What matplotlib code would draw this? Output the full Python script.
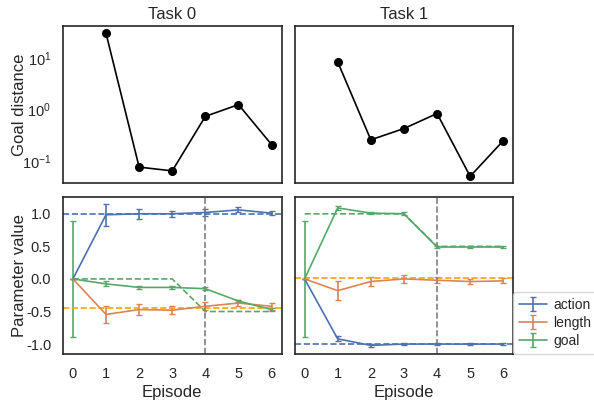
import numpy as np
import matplotlib
matplotlib.use("Agg")
import matplotlib.pyplot as plt
import seaborn as sns

sns.set_style("white")
plt.rcParams['font.family'] = ['Arial', 'Liberation Sans', 'DejaVu Sans']
plt.rcParams['axes.unicode_minus'] = False

episodes = [0, 1, 2, 3, 4, 5, 6]
tasks = ["Task 0", "Task 1"]

# goal distance per episode (log scale)
goal_dist = [
    [None, 30.0, 0.077, 0.065, 0.74, 1.25, 0.21],
    [None, 8.4, 0.26, 0.43, 0.84, 0.051, 0.25],
]

# estimated parameters (mean, error)
action_mean = [
    [0.0, 0.985, 1.0, 1.0, 1.02, 1.06, 1.01],
    [0.0, -0.92, -1.02, -1.0, -1.0, -1.0, -1.0],
]
action_err = [
    [0.0, 0.17, 0.08, 0.05, 0.05, 0.04, 0.03],
    [0.0, 0.04, 0.02, 0.02, 0.02, 0.02, 0.02],
]
length_mean = [
    [0.0, -0.545, -0.47, -0.48, -0.42, -0.37, -0.42],
    [0.0, -0.18, -0.04, 0.0, -0.02, -0.04, -0.03],
]
length_err = [
    [0.0, 0.13, 0.08, 0.06, 0.06, 0.04, 0.05],
    [0.0, 0.15, 0.07, 0.06, 0.05, 0.04, 0.04],
]
goal_mean = [
    [0.0, -0.076, -0.13, -0.13, -0.15, -0.34, -0.47],
    [0.0, 1.09, 1.01, 1.0, 0.49, 0.49, 0.49],
]
goal_err = [
    [0.89, 0.04, 0.02, 0.02, 0.02, 0.02, 0.02],
    [0.89, 0.03, 0.02, 0.02, 0.02, 0.02, 0.02],
]

# true values
true_action = [1.0, -1.0]
true_length = [-0.44, 0.01]
true_goal = [
    [0.0, 0.0, 0.0, 0.0, -0.5, -0.5, -0.5],
    [1.0, 1.0, 1.0, 1.0, 0.5, 0.5, 0.5],
]
switch_episode = 4

blue, orange, green = sns.color_palette("deep")[:3]
lw = 1.2

fig, axes = plt.subplots(2, 2, figsize=(5.94, 4.03), dpi=100, sharex=True, sharey='row')
fig.subplots_adjust(left=0.106, right=0.864, top=0.935, bottom=0.122, wspace=0.06, hspace=0.083)

for t in range(2):
    ax = axes[0, t]
    xs = [e for e, v in zip(episodes, goal_dist[t]) if v is not None]
    ys = [v for v in goal_dist[t] if v is not None]
    ax.plot(xs, ys, 'o-', color='k', markersize=5.5, linewidth=lw)
    ax.set_yscale('log')
    ax.set_title(tasks[t], fontsize=12, pad=5)
    ax.yaxis.set_minor_locator(matplotlib.ticker.NullLocator())

    ax = axes[1, t]
    ax.errorbar(episodes, action_mean[t], yerr=action_err[t], color=blue, capsize=2, label='action', linewidth=lw)
    ax.errorbar(episodes, length_mean[t], yerr=length_err[t], color=orange, capsize=2, label='length', linewidth=lw)
    ax.errorbar(episodes, goal_mean[t], yerr=goal_err[t], color=green, capsize=2, label='goal', linewidth=lw)
    ax.axhline(true_action[t], color=blue, linestyle='--', linewidth=lw)
    ax.axhline(true_length[t], color='orange', linestyle='--', linewidth=lw)
    ax.plot(episodes, true_goal[t], color=green, linestyle='--', linewidth=lw)
    ax.axvline(switch_episode, color='gray', linestyle='--', linewidth=lw)
    ax.set_xlabel("Episode", fontsize=12, labelpad=3)
    ax.set_xticks(episodes)

for ax in axes.flat:
    ax.tick_params(axis='x', labelsize=10.5, pad=6)
    ax.tick_params(axis='y', labelsize=10.5, pad=5)
    for s in ax.spines.values():
        s.set_color('#262626')
        s.set_linewidth(1.2)

axes[0, 0].set_ylabel("Goal distance", fontsize=12)
axes[1, 0].set_ylabel("Parameter value", fontsize=12)
for ax in axes[:, 0]:
    ax.yaxis.set_label_coords(-0.165, 0.5)
axes[1, 0].set_yticks([-1.0, -0.5, 0.0, 0.5, 1.0])
axes[1, 1].legend(loc='lower left', bbox_to_anchor=(1.0, 0.0), fontsize=10, borderaxespad=0.0,
                  handletextpad=0.5, labelspacing=0.3)

fig.savefig("out.png", dpi=100)
